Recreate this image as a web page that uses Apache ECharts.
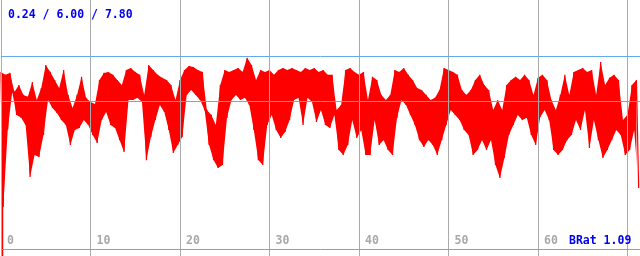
<!DOCTYPE html>
<html><head><meta charset="utf-8">
<script src="https://cdn.jsdelivr.net/npm/echarts@6/dist/echarts.min.js"></script>
<style>html,body{margin:0;padding:0;background:#fff}#c{width:640px;height:256px}</style>
</head><body><div id="c"></div>
<script>
// x ticks (categories along the axis)
const xTicks = [0, 10, 20, 30, 40, 50, 60, 70];
// reference levels
const levels = [0, 6.00, 7.80];
const titleText = "0.24 / 6.00 / 7.80";
const footText = "BRat 1.09";
// envelope readings every 0.5 units: upper and lower value of the trace
const hi = [7.17,7.05,7.13,6.36,6.64,6.24,6.16,6.76,6.03,6.52,
7.45,7.17,6.84,6.52,7.25,6.24,5.71,6.24,6.97,6.12,
5.95,5.87,6.84,7.13,7.17,7.05,6.84,6.64,7.25,7.33,
7.17,7.05,6.24,7.45,7.25,7.05,6.93,6.84,6.64,6.03,
6.84,7.25,7.41,7.37,7.25,7.17,5.63,5.43,5.02,6.64,
7.25,7.17,7.25,7.33,7.17,7.74,7.45,6.84,7.25,7.17,
7.25,7.05,7.25,7.33,7.25,7.33,7.25,7.17,7.33,7.25,
7.33,7.17,7.25,7.05,7.05,5.63,5.83,7.25,7.33,7.17,
7.05,7.17,6.03,6.97,6.84,6.24,6.03,6.24,7.25,7.17,
7.33,7.05,6.84,6.52,6.44,6.24,6.03,6.12,6.44,7.33,
7.25,7.17,7.05,6.44,6.24,6.44,6.84,7.05,6.64,6.44,
5.63,6.03,5.63,6.64,6.84,6.97,6.84,7.05,6.84,6.24,
6.93,7.05,6.84,6.03,5.63,6.24,7.05,6.24,7.17,7.25,
7.33,7.17,7.25,6.24,7.57,6.64,6.93,7.05,6.84,5.22,
5.43,6.64,6.84];
const lo = [1.70,4.82,6.36,5.43,5.31,5.02,2.92,3.81,3.73,4.62,
6.03,5.71,5.51,5.22,5.02,4.21,4.82,4.90,5.22,5.02,
4.62,4.29,5.22,5.55,5.02,4.90,4.41,3.93,6.03,6.03,
6.12,5.95,3.60,4.54,5.22,5.83,5.55,4.82,3.89,4.21,
4.54,6.24,6.44,6.24,6.03,5.63,4.21,3.60,3.28,3.40,
5.31,6.03,6.24,6.03,6.12,5.83,4.82,3.60,3.40,5.02,
5.43,4.82,4.50,4.74,5.22,6.03,6.12,5.02,6.12,5.95,
5.14,5.63,5.02,4.90,5.43,4.01,3.81,4.21,5.22,4.50,
4.82,3.81,3.81,5.22,4.21,4.41,4.01,3.81,5.31,6.03,
5.83,5.43,5.02,4.41,4.13,4.41,4.21,3.81,4.41,5.02,
5.63,5.43,5.22,4.82,4.62,3.81,4.01,4.41,4.01,4.41,
3.40,2.88,3.69,4.62,5.02,5.43,5.22,5.31,4.62,4.21,
5.35,5.63,5.22,4.01,3.81,4.01,4.41,4.62,5.22,4.82,
5.63,4.09,5.22,4.41,3.69,4.01,4.41,4.82,4.62,3.81,
4.01,4.82,2.47];
const STEP = 0.5;

const trace = [];
for (let i = 0; i < hi.length; i++) {
  trace.push([i * STEP, hi[i]]);
  trace.push([i * STEP + STEP / 2, lo[i]]);
}
const upper = hi.map((v, i) => [i * STEP, v]);
const lower = lo.map((v, i) => [i * STEP + STEP / 2, v]);

const mono = "'DejaVu Sans Mono', monospace";
const chart = echarts.init(document.getElementById('c'), null, {renderer: 'canvas'});
chart.setOption({
  animation: false,
  backgroundColor: '#ffffff',
  title: {
    text: titleText, left: 8, top: 9, padding: 0,
    textStyle: {color: '#0000f0', fontFamily: mono, fontWeight: 'bold', fontSize: 11.5}
  },
  graphic: [{
    type: 'text', left: 569, top: 235, z: 10,
    style: {text: footText, fill: '#0000f0', font: "bold 11.5px 'DejaVu Sans Mono', monospace"}
  }],
  grid: {left: 1, right: 0, top: 0, bottom: 0},
  xAxis: {
    type: 'value', min: 0, max: 71.4, interval: 10, z: 3,
    axisLine: {show: false},
    axisTick: {show: false, customValues: xTicks},
    axisLabel: {
      customValues: xTicks,
      inside: true, margin: 9, align: 'left', padding: [0, 0, 0, 6],
      color: '#a8a8a8', fontFamily: mono, fontWeight: 'bold', fontSize: 11.5,
      showMaxLabel: false
    },
    splitLine: {show: true, lineStyle: {color: '#aaaaaa', width: 1}}
  },
  yAxis: {
    type: 'value', min: -0.28, max: 10.08,
    axisLine: {show: false}, axisTick: {show: false}, axisLabel: {show: false},
    splitLine: {show: false}
  },
  series: [
    {
      type: 'line', data: upper, symbol: 'none', z: 1, zlevel: 0,
      lineStyle: {opacity: 0}, areaStyle: {color: '#ff0000', opacity: 1, origin: 'start'}, silent: true
    },
    {
      type: 'line', data: lower, symbol: 'none', z: 1.5,
      lineStyle: {opacity: 0}, areaStyle: {color: '#ffffff', opacity: 1, origin: 'start'}, silent: true
    },
    {
      type: 'line', data: trace, symbol: 'none', z: 2,
      lineStyle: {color: '#ff0000', width: 1.2}, silent: true
    },
    {
      type: 'line', data: [], z: 4, symbol: 'none',
      markLine: {
        silent: true, symbol: 'none', label: {show: false},
        lineStyle: {color: '#66aaee', width: 1, type: 'solid'},
        data: levels.map(v => ({yAxis: v}))
      }
    }
  ]
});
</script></body></html>
